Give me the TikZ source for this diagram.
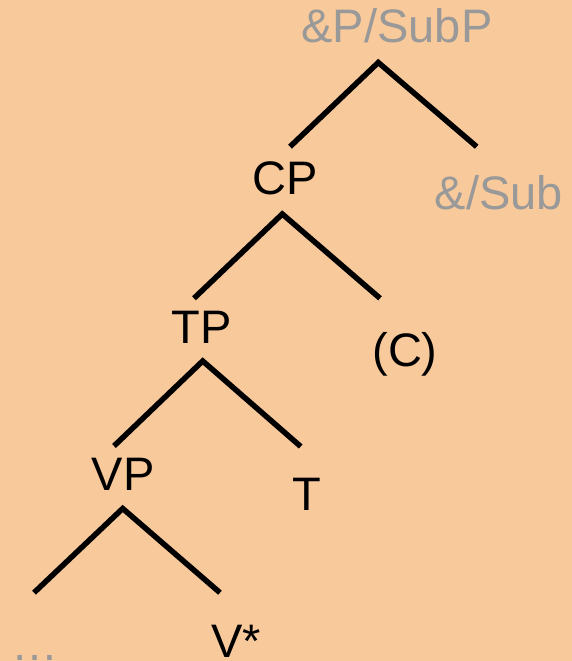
\documentclass[tikz,border=0pt]{standalone}
\usepackage{fontspec}
\setmainfont{Liberation Sans}
\definecolor{bgpeach}{RGB}{248,201,155}
\definecolor{labelgray}{RGB}{153,153,153}
\begin{document}
\begin{tikzpicture}[x=1pt,y=-1pt,
  lbl/.style={anchor=base,inner sep=0pt,font=\fontsize{47}{56}\selectfont},
  faint/.style={lbl,text=labelgray},
  branch/.style={line width=5.5pt,line join=miter,line cap=butt}]
  \fill[bgpeach] (0,0) rectangle (572,661);
  \useasboundingbox (0,0) rectangle (572,661);

  % labels
  \node[faint] (subp) at (397,43) {\&P/SubP};
  \node[lbl]   (cp)   at (285,194.5) {CP};
  \node[faint] (sub)  at (499,209.5) {\&/Sub};
  \node[lbl]   (tp)   at (202,343.5) {TP};
  \node[lbl]   (c)    at (405,366.5) {(C)};
  \node[lbl]   (vp)   at (123,490) {VP};
  \node[lbl]   (t)    at (306.5,510.5) {T};
  \node[lbl]   (v)    at (236,657) {V*};
  \node[faint] (dots) at (35.5,660) {…};

  % branch points and branch ends
  \coordinate (a1) at (378.3,62.5);
  \coordinate (a1l) at (290,146.7);
  \coordinate (a1r) at (476.7,146.7);
  \coordinate (a2) at (282.3,214);
  \coordinate (a2l) at (194,298.3);
  \coordinate (a2r) at (380,298.3);
  \coordinate (a3) at (202.7,361);
  \coordinate (a3l) at (114,446);
  \coordinate (a3r) at (300.7,446.5);
  \coordinate (a4) at (122.7,508.5);
  \coordinate (a4l) at (34,592.7);
  \coordinate (a4r) at (220,592.7);

  \draw[branch] (a1l) -- (a1) -- (a1r);
  \draw[branch] (a2l) -- (a2) -- (a2r);
  \draw[branch] (a3l) -- (a3) -- (a3r);
  \draw[branch] (a4l) -- (a4) -- (a4r);
\end{tikzpicture}
\end{document}
